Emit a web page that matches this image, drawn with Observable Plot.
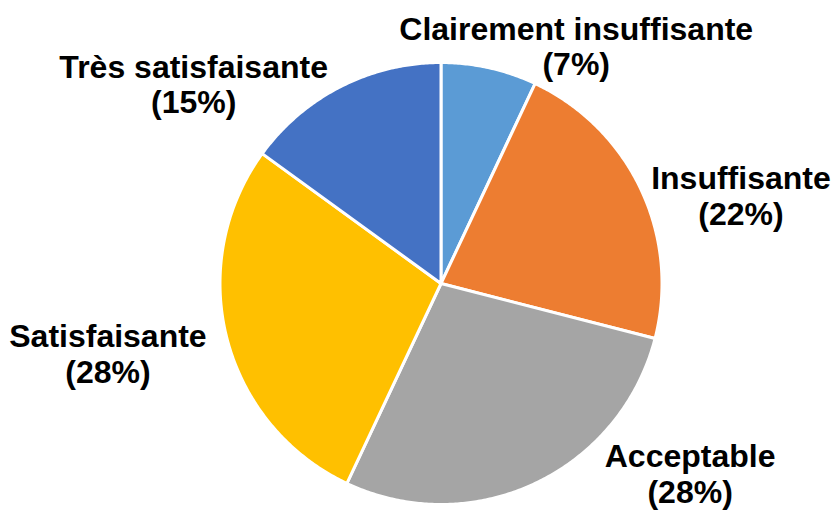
<!DOCTYPE html>
<html>
<head>
<meta charset="utf-8">
<script src="https://cdn.jsdelivr.net/npm/d3@7"></script>
<script src="https://cdn.jsdelivr.net/npm/@observablehq/plot@0.6"></script>
<style>
  html, body { margin: 0; padding: 0; background: #ffffff; }
  #chart svg { display: block; }
</style>
</head>
<body>
<div id="chart"></div>
<script>
// ---- Data ----
const categories = ["Clairement insuffisante", "Insuffisante", "Acceptable", "Satisfaisante", "Très satisfaisante"];
const values = [7, 22, 28, 28, 15];
const colors = ["#5B9BD5", "#ED7D31", "#A5A5A5", "#FFC000", "#4472C4"];

// ---- Label layout nudges (pixels, relative to slice edge at mid-angle) ----
const labelDx = [87, 100, 155, -119, -147];
const labelDy = [-53, -25, -41, -16, -34];

// ---- Build slice polygons in data space (unit circle, clockwise from 12 o'clock) ----
const total = d3.sum(values);
const pie = d3.pie().sort(null).value(d => d)(values);
const polys = [];
const mids = [];
pie.forEach((p, i) => {
  const a0 = p.startAngle, a1 = p.endAngle;
  const n = Math.max(8, Math.ceil((a1 - a0) / (Math.PI * 2) * 720));
  polys.push({cat: categories[i], x: 0, y: 0});
  for (let k = 0; k <= n; k++) {
    const a = a0 + (a1 - a0) * k / n;
    polys.push({cat: categories[i], x: Math.sin(a), y: Math.cos(a)});
  }
  polys.push({cat: categories[i], x: 0, y: 0});
  const m = (a0 + a1) / 2;
  mids.push({cat: categories[i], x: Math.sin(m), y: Math.cos(m),
             label: `${categories[i]}\n(${Math.round(values[i] / total * 100)}%)`});
});

const labelMarks = mids.map((d, i) => Plot.text([d], {
  x: "x", y: "y", text: "label",
  dx: labelDx[i], dy: labelDy[i],
  textAnchor: "middle", lineAnchor: "top", lineHeight: 1.1,
  fontSize: 32, fontWeight: "bold", fill: "#000000"
}));

const chart = Plot.plot({
  width: 833,
  height: 510,
  margin: 0,
  x: {domain: [-1, 1], range: [219.5, 661.5], axis: null},
  y: {domain: [-1, 1], range: [504, 62], axis: null},
  color: {domain: categories, range: colors},
  style: {fontFamily: "'Liberation Sans', Arial, sans-serif", background: "#ffffff", overflow: "visible"},
  marks: [
    Plot.line(polys, {x: "x", y: "y", z: "cat", fill: "cat", stroke: "#ffffff", strokeWidth: 3, strokeLinejoin: "round", curve: "linear"}),
    ...labelMarks
  ]
});
document.getElementById("chart").appendChild(chart);
</script>
</body>
</html>
